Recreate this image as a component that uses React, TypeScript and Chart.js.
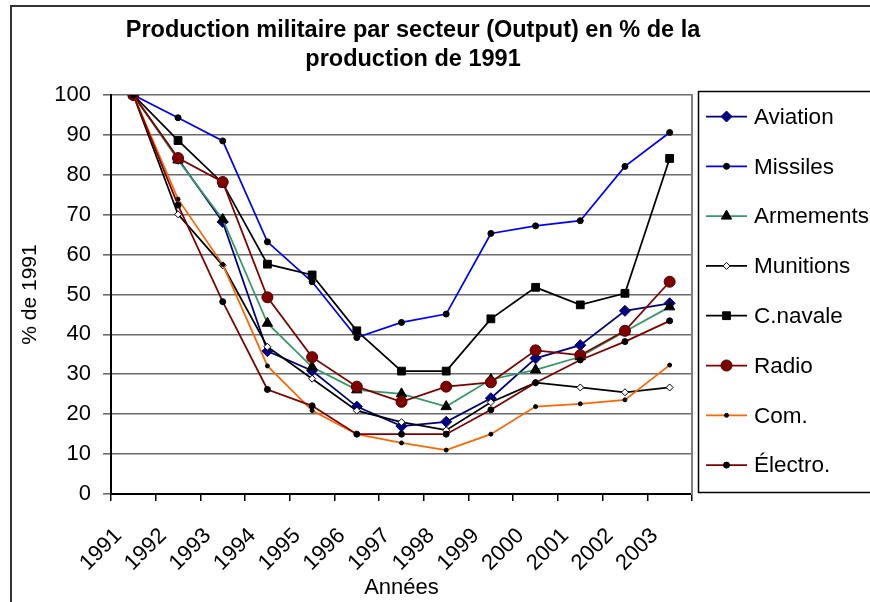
import React, { useEffect, useRef } from 'react';
import { Chart, registerables } from 'chart.js';
import { drawPoint } from 'chart.js/helpers';

Chart.register(...registerables);

const FONT = '"Liberation Sans", Arial, Helvetica, sans-serif';

const years = ['1991', '1992', '1993', '1994', '1995', '1996', '1997', '1998', '1999', '2000', '2001', '2002', '2003'];
const yTicks = [0, 10, 20, 30, 40, 50, 60, 70, 80, 90, 100];

const aviation = [100, 84, 68.2, 35.8, 30.9, 21.9, 17.0, 18.1, 24.0, 34.0, 37.3, 45.9, 47.8];
const missiles = [100, 94.3, 88.5, 63.2, 53.2, 39.2, 43.0, 45.1, 65.3, 67.2, 68.5, 82.1, 90.6];
const armements = [100, 83.7, 68.8, 42.8, 31.8, 26.1, 25.1, 21.9, 28.7, 31.1, 34.4, 40.7, 46.9];
const munitions = [100, 70.1, 57.3, 36.9, 28.9, 20.9, 18.0, 16.0, 23.0, 27.9, 26.7, 25.5, 26.7];
const cnavale = [100, 88.6, 77.9, 57.6, 54.9, 40.9, 30.8, 30.8, 43.9, 51.8, 47.4, 50.3, 84.1];
const radio = [100, 84.2, 78.2, 49.3, 34.3, 26.9, 23.1, 26.9, 28.0, 36.0, 34.8, 40.9, 53.2];
const com = [100, 73.9, 57.5, 32.1, 20.9, 15.0, 12.8, 11.0, 15.0, 21.9, 22.6, 23.6, 32.3];
const electro = [100, 72.4, 48.2, 26.2, 22.1, 15.0, 15.0, 15.0, 21.1, 27.9, 33.6, 38.2, 43.4];

const seriesNames = ['Aviation', 'Missiles', 'Armements', 'Munitions', 'C.navale', 'Radio', 'Com.', 'Électro.'];
const seriesData = [aviation, missiles, armements, munitions, cnavale, radio, com, electro];
const lineColors = ['#000080', '#0000FF', '#339966', '#000000', '#000000', '#800000', '#FF6600', '#800000'];
const markerStyles = ['rectRot', 'circle', 'triangle', 'rectRot', 'rect', 'circle', 'circle', 'circle'];
const markerRadii = [5.5, 3, 6, 3.5, 5.5, 5.5, 2, 3];
const markerFills = ['#000080', '#000000', '#000000', '#FFFFFF', '#000000', '#800000', '#000000', '#000000'];
const markerBorders = ['#000080', '#000000', '#000000', '#000000', '#000000', '#500000', '#000000', '#000000'];

const framePlugin = {
  id: 'frame',
  beforeDraw(chart: any) {
    const ctx = chart.ctx;
    ctx.save();
    ctx.fillStyle = '#FFFFFF';
    ctx.fillRect(0, 0, chart.width, chart.height);
    ctx.strokeStyle = '#333333';
    ctx.lineWidth = 2;
    ctx.strokeRect(11, 6, 2000, 2000);
    ctx.restore();
  },
};

const legendPlugin = {
  id: 'excelLegend',
  afterDraw(chart: any) {
    const ctx = chart.ctx;
    ctx.save();
    ctx.strokeStyle = '#000000';
    ctx.lineWidth = 1.5;
    ctx.strokeRect(698.5, 91.5, 400, 401);
    chart.data.datasets.forEach((ds: any, i: number) => {
      const y = 116.5 + i * 49.8;
      ctx.strokeStyle = ds.borderColor;
      ctx.lineWidth = ds.borderWidth;
      ctx.beginPath();
      ctx.moveTo(706, y);
      ctx.lineTo(747, y);
      ctx.stroke();
      ctx.fillStyle = ds.pointBackgroundColor;
      ctx.strokeStyle = ds.pointBorderColor;
      ctx.lineWidth = 1;
      drawPoint(ctx, { pointStyle: ds.pointStyle, radius: ds.pointRadius, borderWidth: 1, rotation: 0 } as any, 726.5, y);
      ctx.fillStyle = '#000000';
      ctx.font = `22.5px ${FONT}`;
      ctx.textBaseline = 'middle';
      ctx.textAlign = 'left';
      ctx.fillText(ds.label, 754, y + 1);
    });
    ctx.restore();
  },
};

export default function App() {
  const ref = useRef<HTMLCanvasElement | null>(null);

  useEffect(() => {
    if (!ref.current) return;
    Chart.defaults.font.family = FONT;
    Chart.defaults.color = '#000000';
    const chart = new Chart(ref.current, {
      type: 'line',
      data: {
        labels: years,
        datasets: seriesNames.map((name, i) => ({
          label: name,
          data: seriesData[i],
          borderColor: lineColors[i],
          backgroundColor: lineColors[i],
          borderWidth: 1.75,
          pointStyle: markerStyles[i] as any,
          pointRadius: markerRadii[i],
          pointBackgroundColor: markerFills[i],
          pointBorderColor: markerBorders[i],
          pointBorderWidth: 1,
          tension: 0,
          fill: false,
          order: seriesNames.length - i,
        })),
      },
      options: {
        responsive: false,
        animation: false,
        layout: { padding: { left: 11, right: 55, top: 8, bottom: 0 } },
        plugins: {
          legend: { display: false },
          tooltip: { enabled: false },
          title: {
            display: true,
            text: ['Production militaire par secteur (Output) en % de la', 'production de 1991'],
            color: '#000000',
            font: { size: 23.5, weight: 'bold', lineHeight: 29 / 23.5 },
            padding: { top: 8.5, bottom: 20.5 },
          },
        },
        scales: {
          x: {
            type: 'category',
            offset: true,
            grid: { display: true, offset: true, drawOnChartArea: false, drawTicks: true, tickLength: 7, color: '#000000', lineWidth: 1.5 },
            border: { display: true, color: '#000000', width: 2 },
            ticks: {
              autoSkip: false,
              minRotation: 45,
              maxRotation: 45,
              labelOffset: -15,
              padding: 22,
              color: '#000000',
              font: { size: 22 },
            },
            title: {
              display: true,
              text: 'Années',
              color: '#000000',
              font: { size: 22, lineHeight: 1.2 },
              padding: { top: 0, bottom: 1 },
            },
            afterFit: (s: any) => { s.height = 108; },
          },
          y: {
            type: 'linear',
            min: 0,
            max: 100,
            afterBuildTicks: (s: any) => { s.ticks = yTicks.map((v) => ({ value: v })); },
            grid: { color: '#6a6a6a', lineWidth: 1.6, tickLength: 8, drawTicks: true },
            border: { display: true, color: '#000000', width: 2 },
            ticks: { padding: 12, color: '#000000', font: { size: 22 } },
            title: {
              display: true,
              text: '% de 1991',
              color: '#000000',
              font: { size: 21, lineHeight: 1.2 },
              padding: { top: 7, bottom: 0 },
            },
            afterFit: (s: any) => { s.width = 100; },
          },
          yR: {
            type: 'linear',
            position: 'right',
            display: true,
            grid: { display: false, drawTicks: false },
            ticks: { display: false },
            border: { display: true, color: '#808080', width: 2 },
            afterFit: (s: any) => { s.width = 123; },
          },
        },
      } as any,
      plugins: [framePlugin, legendPlugin],
    });
    return () => chart.destroy();
  }, []);

  return (
    <div style={{ position: 'absolute', left: 0, top: 0, width: 870, height: 602, overflow: 'hidden' }}>
      <canvas ref={ref} width={870} height={602} style={{ display: 'block' }} />
    </div>
  );
}
